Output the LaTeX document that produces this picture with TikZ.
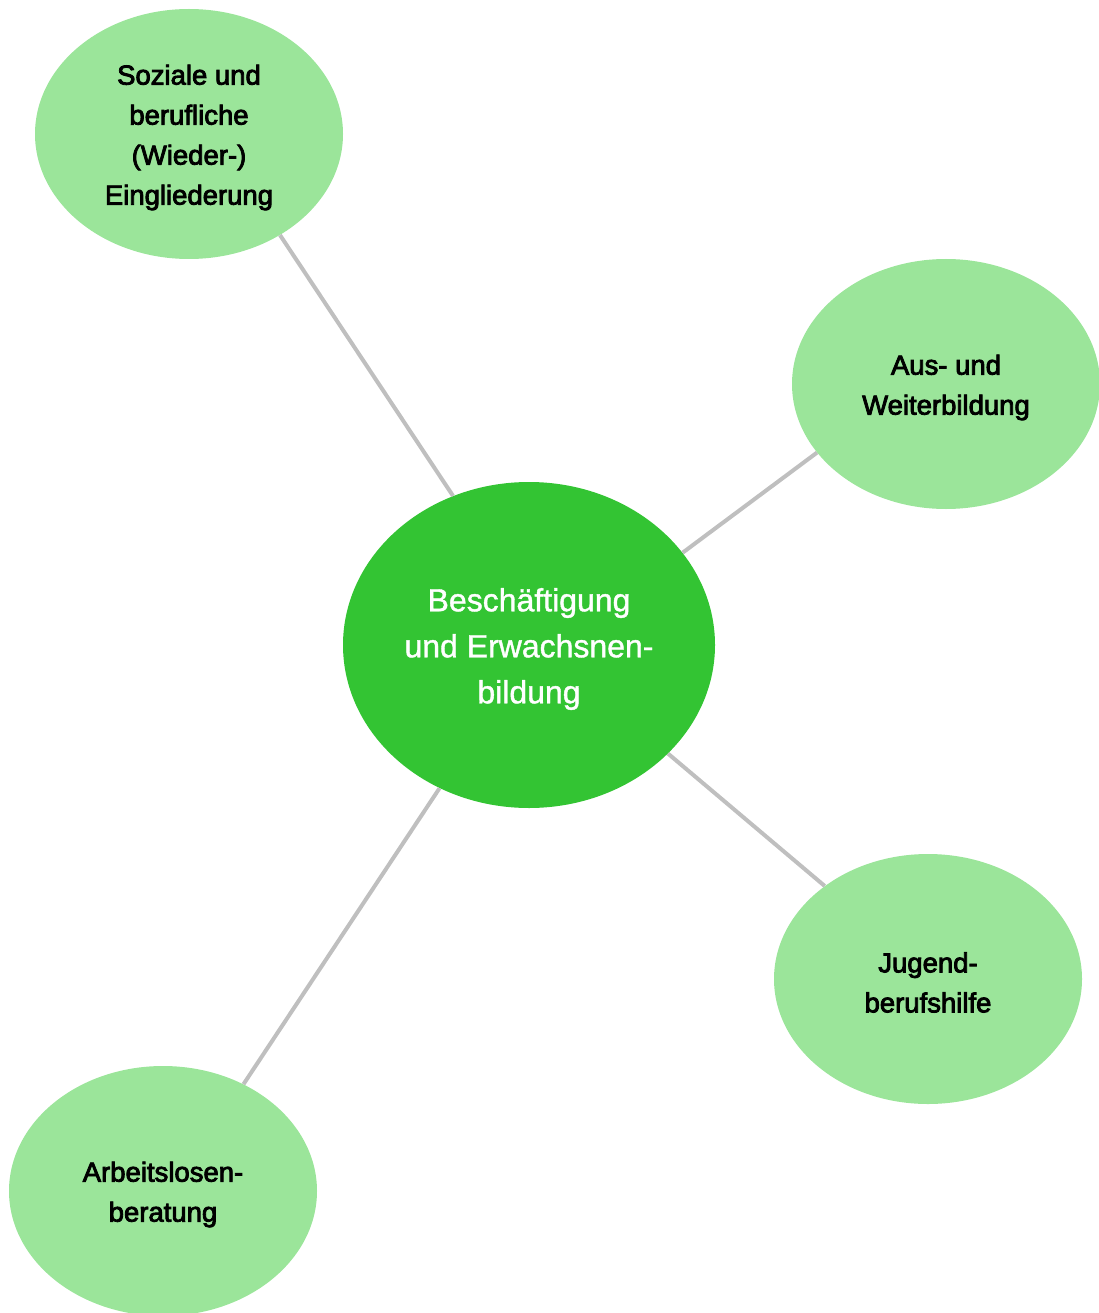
\documentclass[tikz,border=0pt]{standalone}
\usepackage{fontspec}
\setmainfont{Liberation Sans}
\newfontfamily\leaffont{Liberation Sans}[FakeBold=3]
\newfontfamily\hubfont{Liberation Sans}[FakeBold=1.2]
\usetikzlibrary{shapes.geometric}
\definecolor{leafgreen}{HTML}{9BE59A}
\definecolor{centergreen}{HTML}{33C433}
\definecolor{linegray}{HTML}{BFBFBF}
\tikzset{
  leaf/.style={ellipse, fill=leafgreen, draw=none, minimum width=308pt, minimum height=250pt,
    inner sep=0pt},
  leaftext/.style={inner sep=0pt, align=center, text=black, yshift=-3.5pt,
    font=\leaffont\fontsize{27.5}{40}\selectfont},
  hub/.style={ellipse, fill=centergreen, draw=none, minimum width=372pt, minimum height=326pt,
    inner sep=0pt},
  hubtext/.style={inner sep=0pt, align=center, text=white, yshift=-4pt,
    font=\hubfont\fontsize{32}{46}\selectfont},
  link/.style={draw=linegray, line width=4pt}
}
\begin{document}
\begin{tikzpicture}[x=1pt,y=-1pt]
\useasboundingbox (0,0) rectangle (1099,1313);
\node[hub] (c) at (529,645) {};
\node[hubtext] (ct) at (c.center) {Beschäftigung\\und Erwachsnen-\\bildung};
\node[leaf] (tl) at (189,134) {};
\node[leaftext] (tlt) at (tl.center) {Soziale und\\berufliche\\(Wieder-)\\Eingliederung};
\node[leaf] (ru) at (946,384) {};
\node[leaftext] (rut) at (ru.center) {Aus- und\\Weiterbildung};
\node[leaf] (rl) at (928,979) {};
\node[leaftext] (rlt) at (rl.center) {Jugend-\\berufshilfe};
\node[leaf] (bl) at (163,1191) {};
\node[leaftext] (blt) at (bl.center) {Arbeitslosen-\\beratung};
\draw[link] (tl.-48.9) -- (c.117.5);
\draw[link] (ru.208.7) -- (c.31.3);
\draw[link] (rl.138.2) -- (c.-38.4);
\draw[link] (bl.53.4) -- (c.238);
\end{tikzpicture}
\end{document}
